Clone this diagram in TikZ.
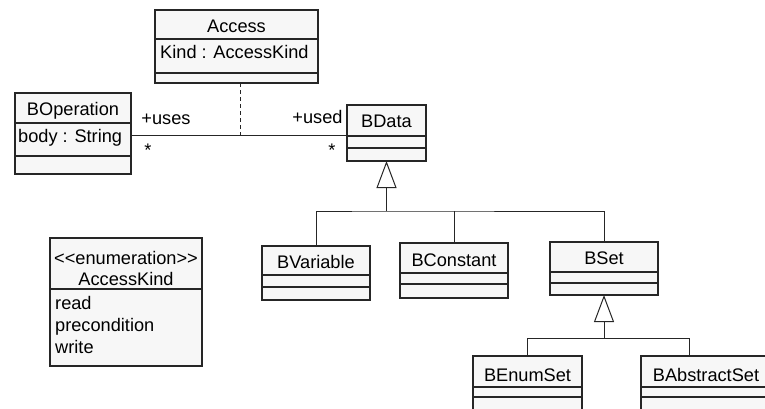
\documentclass[tikz,border=0pt]{standalone}
\usepackage{fontspec}
\setmainfont{Liberation Sans}
\usetikzlibrary{arrows.meta}
\begin{document}
\begin{tikzpicture}[x=1pt,y=-1pt,
  cls/.style={draw=black!85, fill=black!3, line width=1.2pt, inner sep=0pt, outer sep=0pt, anchor=north west},
  sep/.style={draw=black!85, line width=1.1pt},
  lbl/.style={inner sep=0pt, anchor=base, font=\fontsize{18.2}{21}\selectfont},
  attr/.style={lbl, anchor=base west},
  conn/.style={line width=1pt, draw=black!85},
  gen/.style={conn, -{Triangle[open, length=27pt, width=20pt]}},
]
\useasboundingbox (0,0) rectangle (765,408);
\clip (0,0) rectangle (765,408);

% boxes
\node[cls, minimum width=163pt, minimum height=73pt] (acc) at (155,10) {};
\node[cls, minimum width=116pt, minimum height=81pt] (bop) at (15,93) {};
\node[cls, minimum width=79pt, minimum height=56pt] (bdata) at (347,105) {};
\node[cls, minimum width=108pt, minimum height=54pt] (bvar) at (262,246) {};
\node[cls, minimum width=108pt, minimum height=55pt] (bcon) at (400,243) {};
\node[cls, minimum width=108pt, minimum height=53pt] (bset) at (550,242) {};
\node[cls, minimum width=109pt, minimum height=80pt] (benum) at (473,356) {};
\node[cls, minimum width=150pt, minimum height=80pt] (babs) at (641,356) {};
\node[cls, minimum width=152pt, minimum height=128pt] (akind) at (50,238) {};

% separators
\draw[sep] (acc.west |- 0,39) -- (acc.east |- 0,39);
\draw[sep] (acc.west |- 0,73) -- (acc.east |- 0,73);
\draw[sep] (bop.west |- 0,123) -- (bop.east |- 0,123);
\draw[sep] (bop.west |- 0,156) -- (bop.east |- 0,156);
\draw[sep] (bdata.west |- 0,136) -- (bdata.east |- 0,136);
\draw[sep] (bdata.west |- 0,148) -- (bdata.east |- 0,148);
\draw[sep] (bvar.west |- 0,275) -- (bvar.east |- 0,275);
\draw[sep] (bvar.west |- 0,287) -- (bvar.east |- 0,287);
\draw[sep] (bcon.west |- 0,273) -- (bcon.east |- 0,273);
\draw[sep] (bcon.west |- 0,284) -- (bcon.east |- 0,284);
\draw[sep] (bset.west |- 0,272) -- (bset.east |- 0,272);
\draw[sep] (bset.west |- 0,283) -- (bset.east |- 0,283);
\draw[sep] (benum.west |- 0,387) -- (benum.east |- 0,387);
\draw[sep] (benum.west |- 0,397) -- (benum.east |- 0,397);
\draw[sep] (babs.west |- 0,387) -- (babs.east |- 0,387);
\draw[sep] (babs.west |- 0,397) -- (babs.east |- 0,397);
\draw[sep] (akind.west |- 0,289) -- (akind.east |- 0,289);

% texts
\node[lbl] (taccess) at (acc.north |- 0,32) {Access};
\node[attr] (tkind) at (160,58) {Kind : AccessKind};
\node[lbl] (tbop) at (bop.north |- 0,115) {BOperation};
\node[attr] (tbody) at (18,142) {body : String};
\node[lbl] (tbdata) at (bdata.north |- 0,127) {BData};
\node[lbl] (tbvar) at (bvar.north |- 0,268) {BVariable};
\node[lbl] (tbcon) at (bcon.north |- 0,266.5) {BConstant};
\node[lbl] (tbset) at (bset.north |- 0,264.5) {BSet};
\node[lbl] (tbenum) at (benum.north |- 0,381) {BEnumSet};
\node[lbl] (tbabs) at (706,381) {BAbstractSet};
\node[lbl] (tenum) at (akind.north |- 0,264) {<{}<enumeration>{}>};
\node[lbl] (takind) at (akind.north |- 0,285) {AccessKind};
\node[attr] (tread) at (55,309.5) {read};
\node[attr] (tpre) at (55,331) {precondition};
\node[attr] (twrite) at (55,353) {write};

% association
\coordinate (am) at (240,135);
\draw[conn] (bop.east |- am) -- (bdata.west |- am);
\draw[conn, dash pattern=on 4pt off 3pt] (acc.south -| am) -- (am);
\node[lbl] (luses) at (166,124) {+uses};
\node[lbl] (lused) at (317.5,123) {+used};
\node[lbl] (m1) at (148,156) {*};
\node[lbl] (m2) at (332,156) {*};

% generalization BData
\coordinate (b1) at (bdata.south |- 0,211);
\draw[gen] (b1) -- (bdata.south);
\draw[conn] (bvar.north) |- (b1) -| (bset.north);
\draw[conn] (bcon.north) -- (bcon.north |- b1);

% generalization BSet
\coordinate (b2) at (bset.south |- 0,338);
\coordinate (b3) at (689,338);
\draw[gen] (b2) -- (bset.south);
\draw[conn] (benum.north) |- (b3) -- (b3 |- babs.north);
\end{tikzpicture}
\end{document}
